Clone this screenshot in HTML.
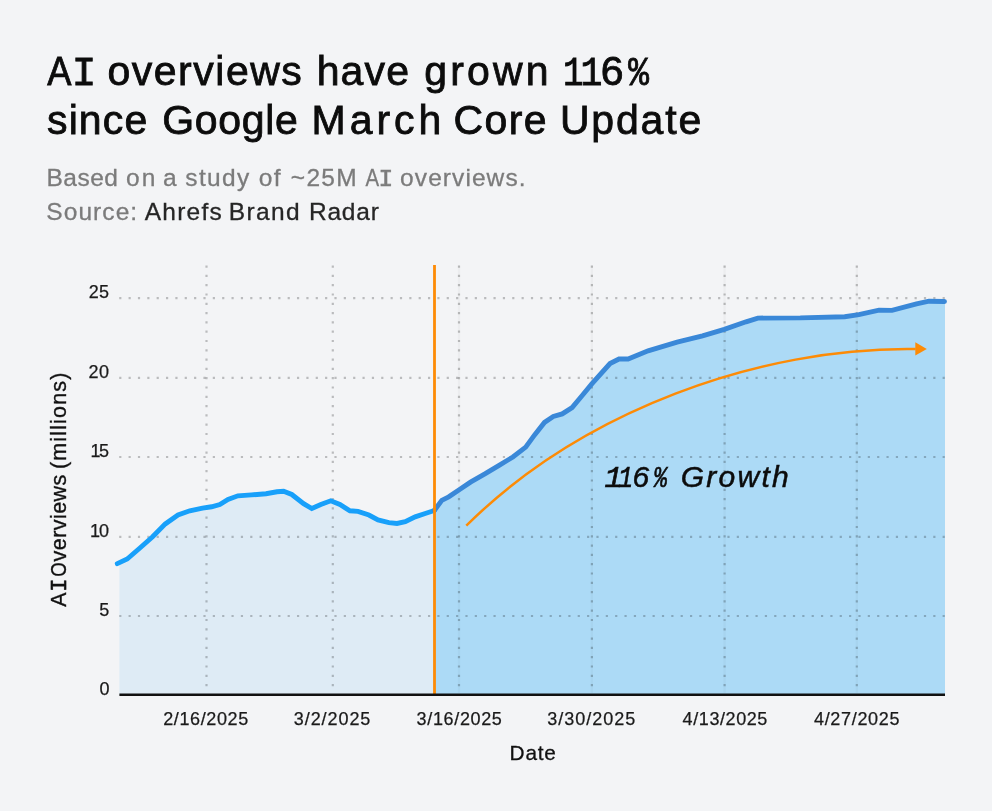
<!DOCTYPE html>
<html><head><meta charset="utf-8"><style>
html,body{margin:0;padding:0;background:#f3f4f6;}
svg{display:block;will-change:transform}
</style></head><body>
<svg width="992" height="811" viewBox="0 0 992 811">
<rect width="992" height="811" fill="#f3f4f6"/>
<path d="M119.4,695 L119.4,563.6 127.2,559.0 139.9,548.0 152.6,536.8 165.3,523.9 178.0,515.0 189.8,510.8 202.5,508.1 211.6,506.8 219.8,504.5 228.0,499.4 237.9,495.8 251.5,494.9 266.0,493.7 277.0,491.8 283.6,491.2 291.8,494.5 303.6,503.6 311.8,508.5 320.8,504.5 330.8,500.8 339.9,504.5 349.9,510.8 358.0,511.4 368.9,515.0 378.0,519.9 388.9,522.6 397.0,523.5 405.2,521.7 415.2,516.8 425.2,513.5 434.3,510.5 L434.3,695 Z" fill="#deebf5"/>
<path d="M434.3,695 L434.3,510.5 441.8,500.4 448.7,496.8 459.6,489.5 470.5,482.2 485.3,473.7 499.1,465.3 512.9,457.0 525.7,447.1 534.6,434.9 544.5,422.4 553.3,416.5 562.2,413.9 572.1,407.6 582.0,395.8 591.8,383.9 610.0,363.5 619.0,359.0 628.1,359.0 648.1,350.8 677.1,342.1 702.5,335.9 724.3,329.4 746.0,321.8 757.8,318.1 800.3,317.9 844.7,316.7 858.8,314.7 879.0,310.2 892.0,310.4 916.5,303.9 929.0,301.2 944.5,301.5 L945,301.5 L945,695 Z" fill="#acdaf6"/>
<text x="604.60" y="486.6" style="font-family:'Liberation Mono';font-size:30px;fill:#0c0c0c;font-style:italic;stroke:#0c0c0c;stroke-width:0.7px;letter-spacing:0.000px">1</text><text transform="translate(618.20,486.6) scale(0.819,1)" style="font-family:'Liberation Mono';font-size:30px;fill:#0c0c0c;font-style:italic;stroke:#0c0c0c;stroke-width:0.7px">1</text><text x="632.60" y="486.6" style="font-family:'Liberation Sans';font-size:30px;fill:#0c0c0c;font-style:italic;stroke:#0c0c0c;stroke-width:0.5px;letter-spacing:0.000px">6</text><text transform="translate(653.74,486.6) scale(0.743,1)" style="font-family:'Liberation Mono';font-size:30px;fill:#0c0c0c;font-style:italic;stroke:#0c0c0c;stroke-width:0.7px">%</text><text x="680.70" y="486.6" style="font-family:'Liberation Sans';font-size:30px;fill:#0c0c0c;font-style:italic;stroke:#0c0c0c;stroke-width:0.5px;letter-spacing:2.280px">Growth</text>
<line x1="119.2" y1="298.1" x2="945" y2="298.1" stroke="rgba(0,0,0,0.23)" stroke-width="2.2" stroke-dasharray="2.2 7.157"/>
<line x1="119.2" y1="377.8" x2="945" y2="377.8" stroke="rgba(0,0,0,0.23)" stroke-width="2.2" stroke-dasharray="2.2 7.157"/>
<line x1="119.2" y1="457" x2="945" y2="457" stroke="rgba(0,0,0,0.23)" stroke-width="2.2" stroke-dasharray="2.2 7.157"/>
<line x1="119.2" y1="536.8" x2="945" y2="536.8" stroke="rgba(0,0,0,0.23)" stroke-width="2.2" stroke-dasharray="2.2 7.157"/>
<line x1="119.2" y1="616" x2="945" y2="616" stroke="rgba(0,0,0,0.23)" stroke-width="2.2" stroke-dasharray="2.2 7.157"/>
<line x1="206.5" y1="265.5" x2="206.5" y2="693" stroke="rgba(0,0,0,0.23)" stroke-width="2.2" stroke-dasharray="2.2 7.1"/>
<line x1="332.8" y1="265.5" x2="332.8" y2="693" stroke="rgba(0,0,0,0.23)" stroke-width="2.2" stroke-dasharray="2.2 7.1"/>
<line x1="459.0" y1="265.6" x2="459.0" y2="693" stroke="rgba(0,0,0,0.028)" stroke-width="2.4"/>
<line x1="459.0" y1="265.5" x2="459.0" y2="693" stroke="rgba(0,0,0,0.23)" stroke-width="2.2" stroke-dasharray="2.2 7.1"/>
<line x1="591.9" y1="265.6" x2="591.9" y2="693" stroke="rgba(0,0,0,0.028)" stroke-width="2.4"/>
<line x1="591.9" y1="265.5" x2="591.9" y2="693" stroke="rgba(0,0,0,0.23)" stroke-width="2.2" stroke-dasharray="2.2 7.1"/>
<line x1="724.6" y1="265.6" x2="724.6" y2="693" stroke="rgba(0,0,0,0.028)" stroke-width="2.4"/>
<line x1="724.6" y1="265.5" x2="724.6" y2="693" stroke="rgba(0,0,0,0.23)" stroke-width="2.2" stroke-dasharray="2.2 7.1"/>
<line x1="856.8" y1="265.6" x2="856.8" y2="693" stroke="rgba(0,0,0,0.028)" stroke-width="2.4"/>
<line x1="856.8" y1="265.5" x2="856.8" y2="693" stroke="rgba(0,0,0,0.23)" stroke-width="2.2" stroke-dasharray="2.2 7.1"/>
<polyline points="117.3,563.6 127.2,559.0 139.9,548.0 152.6,536.8 165.3,523.9 178.0,515.0 189.8,510.8 202.5,508.1 211.6,506.8 219.8,504.5 228.0,499.4 237.9,495.8 251.5,494.9 266.0,493.7 277.0,491.8 283.6,491.2 291.8,494.5 303.6,503.6 311.8,508.5 320.8,504.5 330.8,500.8 339.9,504.5 349.9,510.8 358.0,511.4 368.9,515.0 378.0,519.9 388.9,522.6 397.0,523.5 405.2,521.7 415.2,516.8 425.2,513.5 434.3,510.5" fill="none" stroke="#18a0fa" stroke-width="4.9" stroke-linejoin="miter" stroke-linecap="round"/>
<polyline points="434.3,510.5 441.8,500.4 448.7,496.8 459.6,489.5 470.5,482.2 485.3,473.7 499.1,465.3 512.9,457.0 525.7,447.1 534.6,434.9 544.5,422.4 553.3,416.5 562.2,413.9 572.1,407.6 582.0,395.8 591.8,383.9 610.0,363.5 619.0,359.0 628.1,359.0 648.1,350.8 677.1,342.1 702.5,335.9 724.3,329.4 746.0,321.8 757.8,318.1 800.3,317.9 844.7,316.7 858.8,314.7 879.0,310.2 892.0,310.4 916.5,303.9 929.0,301.2 944.5,301.5" fill="none" stroke="#3a88d8" stroke-width="4.9" stroke-linejoin="miter" stroke-linecap="round"/>
<line x1="434.5" y1="265" x2="434.5" y2="695" stroke="#fd8b06" stroke-width="2.8"/>
<line x1="119.4" y1="694.8" x2="945" y2="694.8" stroke="#111" stroke-width="2.6"/>
<path d="M466.3,525.7 C581.4,411.4 759,346.7 915.7,349.1" fill="none" stroke="#fd8b06" stroke-width="2.5"/>
<path d="M915.3,342.3 L926.8,349.1 L915.3,355.6 Z" fill="#fd8b06"/>
<text x="88.70" y="298.1" style="font-family:'Liberation Sans';font-size:18px;fill:#1a1a1a;stroke:#1a1a1a;stroke-width:0.25px;letter-spacing:0.400px">25</text>
<text x="88.40" y="377.8" style="font-family:'Liberation Sans';font-size:18px;fill:#1a1a1a;stroke:#1a1a1a;stroke-width:0.25px;letter-spacing:0.700px">20</text>
<text x="90.60" y="457" style="font-family:'Liberation Sans';font-size:18px;fill:#1a1a1a;stroke:#1a1a1a;stroke-width:0.25px;letter-spacing:-1.500px">15</text>
<text x="90.10" y="536.8" style="font-family:'Liberation Sans';font-size:18px;fill:#1a1a1a;stroke:#1a1a1a;stroke-width:0.25px;letter-spacing:-1.000px">10</text>
<text x="99.30" y="616" style="font-family:'Liberation Sans';font-size:18px;fill:#1a1a1a;stroke:#1a1a1a;stroke-width:0.25px;letter-spacing:0.000px">5</text>
<text x="99.50" y="695" style="font-family:'Liberation Sans';font-size:18px;fill:#1a1a1a;stroke:#1a1a1a;stroke-width:0.25px;letter-spacing:0.000px">0</text>
<text x="163.20" y="724.5" style="font-family:'Liberation Sans';font-size:18px;fill:#1a1a1a;stroke:#1a1a1a;stroke-width:0.25px;letter-spacing:0.625px">2/16/2025</text><text x="293.80" y="724.5" style="font-family:'Liberation Sans';font-size:18px;fill:#1a1a1a;stroke:#1a1a1a;stroke-width:0.25px;letter-spacing:0.929px">3/2/2025</text><text x="416.60" y="724.5" style="font-family:'Liberation Sans';font-size:18px;fill:#1a1a1a;stroke:#1a1a1a;stroke-width:0.25px;letter-spacing:0.650px">3/16/2025</text><text x="547.20" y="724.5" style="font-family:'Liberation Sans';font-size:18px;fill:#1a1a1a;stroke:#1a1a1a;stroke-width:0.25px;letter-spacing:1.012px">3/30/2025</text><text x="682.60" y="724.5" style="font-family:'Liberation Sans';font-size:18px;fill:#1a1a1a;stroke:#1a1a1a;stroke-width:0.25px;letter-spacing:0.587px">4/13/2025</text><text x="814.00" y="724.5" style="font-family:'Liberation Sans';font-size:18px;fill:#1a1a1a;stroke:#1a1a1a;stroke-width:0.25px;letter-spacing:0.675px">4/27/2025</text>
<text x="509.60" y="759.5" style="font-family:'Liberation Sans';font-size:20.8px;fill:#111;stroke:#111;stroke-width:0.3px;letter-spacing:0.767px">Date</text>
<g transform="translate(66.2,606.1) rotate(-90)"><text x="-0.60" y="0" style="font-family:'Liberation Sans';font-size:21.5px;fill:#111;stroke:#111;stroke-width:0.35px;letter-spacing:0.000px">A</text><text x="14.70" y="0" style="font-family:'Liberation Mono';font-size:21.5px;fill:#111;stroke:#111;stroke-width:0.7px;letter-spacing:0.000px">I</text><text transform="translate(29.23,0) scale(0.867,1)" style="font-family:'Liberation Sans';font-size:21.5px;fill:#111;stroke:#111;stroke-width:0.35px">O</text><text x="44.70" y="0" style="font-family:'Liberation Sans';font-size:21.5px;fill:#111;stroke:#111;stroke-width:0.35px;letter-spacing:0.429px">verviews</text><text x="137.10" y="0" style="font-family:'Liberation Sans';font-size:21.5px;fill:#111;stroke:#111;stroke-width:0.35px;letter-spacing:1.144px">(millions)</text></g>
<text transform="translate(47.30,85.2) scale(0.886,1)" style="font-family:'Liberation Sans';font-size:41px;fill:#0c0c0c;stroke:#0c0c0c;stroke-width:0.8px">A</text><text x="71.65" y="85.2" style="font-family:'Liberation Mono';font-size:41px;fill:#0c0c0c;stroke:#0c0c0c;stroke-width:0.9px;letter-spacing:0.000px">I</text><text x="107.40" y="85.2" style="font-family:'Liberation Sans';font-size:41px;fill:#0c0c0c;stroke:#0c0c0c;stroke-width:0.8px;letter-spacing:1.525px">overviews</text><text x="316.70" y="85.2" style="font-family:'Liberation Sans';font-size:41px;fill:#0c0c0c;stroke:#0c0c0c;stroke-width:0.8px;letter-spacing:1.133px">have</text><text x="424.20" y="85.2" style="font-family:'Liberation Sans';font-size:41px;fill:#0c0c0c;stroke:#0c0c0c;stroke-width:0.8px;letter-spacing:3.150px">grown</text><text transform="translate(562.92,85.2) scale(0.838,1)" style="font-family:'Liberation Mono';font-size:41px;fill:#0c0c0c;stroke:#0c0c0c;stroke-width:0.9px">1</text><text transform="translate(580.42,85.2) scale(0.890,1)" style="font-family:'Liberation Mono';font-size:41px;fill:#0c0c0c;stroke:#0c0c0c;stroke-width:0.9px">1</text><text x="600.70" y="85.2" style="font-family:'Liberation Sans';font-size:41px;fill:#0c0c0c;stroke:#0c0c0c;stroke-width:0.8px;letter-spacing:0.000px">6</text><text transform="translate(628.24,85.2) scale(0.842,1)" style="font-family:'Liberation Mono';font-size:41px;fill:#0c0c0c;stroke:#0c0c0c;stroke-width:0.9px">%</text>
<text x="47.00" y="134.4" style="font-family:'Liberation Sans';font-size:41px;fill:#0c0c0c;stroke:#0c0c0c;stroke-width:0.8px;letter-spacing:1.125px">since</text><text x="162.20" y="134.4" style="font-family:'Liberation Sans';font-size:41px;fill:#0c0c0c;stroke:#0c0c0c;stroke-width:0.8px;letter-spacing:0.660px">Google</text><text x="311.50" y="134.4" style="font-family:'Liberation Sans';font-size:41px;fill:#0c0c0c;stroke:#0c0c0c;stroke-width:0.8px;letter-spacing:3.975px">March</text><text x="453.50" y="134.4" style="font-family:'Liberation Sans';font-size:41px;fill:#0c0c0c;stroke:#0c0c0c;stroke-width:0.8px;letter-spacing:1.433px">Core</text><text x="559.90" y="134.4" style="font-family:'Liberation Sans';font-size:41px;fill:#0c0c0c;stroke:#0c0c0c;stroke-width:0.8px;letter-spacing:1.820px">Update</text>
<text x="46.40" y="186" style="font-family:'Liberation Sans';font-size:24.5px;fill:#7b7b7b;stroke:#7b7b7b;stroke-width:0.3px;letter-spacing:0.525px">Based</text><text x="126.00" y="186" style="font-family:'Liberation Sans';font-size:24.5px;fill:#7b7b7b;stroke:#7b7b7b;stroke-width:0.3px;letter-spacing:2.000px">on</text><text x="162.90" y="186" style="font-family:'Liberation Sans';font-size:24.5px;fill:#7b7b7b;stroke:#7b7b7b;stroke-width:0.3px;letter-spacing:0.000px">a</text><text x="185.30" y="186" style="font-family:'Liberation Sans';font-size:24.5px;fill:#7b7b7b;stroke:#7b7b7b;stroke-width:0.3px;letter-spacing:1.350px">study</text><text x="258.70" y="186" style="font-family:'Liberation Sans';font-size:24.5px;fill:#7b7b7b;stroke:#7b7b7b;stroke-width:0.3px;letter-spacing:1.500px">of</text><text x="290.80" y="186" style="font-family:'Liberation Sans';font-size:24.5px;fill:#7b7b7b;stroke:#7b7b7b;stroke-width:0.3px;letter-spacing:1.300px">~25M</text><text transform="translate(365.40,186) scale(0.835,1)" style="font-family:'Liberation Sans';font-size:24.5px;fill:#7b7b7b;stroke:#7b7b7b;stroke-width:0.3px">A</text><text x="378.45" y="186" style="font-family:'Liberation Mono';font-size:24.5px;fill:#7b7b7b;stroke:#7b7b7b;stroke-width:0.6px;letter-spacing:0.000px">I</text><text x="400.10" y="186" style="font-family:'Liberation Sans';font-size:24.5px;fill:#7b7b7b;stroke:#7b7b7b;stroke-width:0.3px;letter-spacing:1.078px">overviews.</text>
<text x="46.30" y="219.5" style="font-family:'Liberation Sans';font-size:24.5px;fill:#7b7b7b;stroke:#7b7b7b;stroke-width:0.3px;letter-spacing:1.067px">Source:</text><text x="144.80" y="219.5" style="font-family:'Liberation Sans';font-size:24.5px;fill:#262626;stroke:#262626;stroke-width:0.3px;letter-spacing:1.220px">Ahrefs</text><text x="228.80" y="219.5" style="font-family:'Liberation Sans';font-size:24.5px;fill:#262626;stroke:#262626;stroke-width:0.3px;letter-spacing:1.350px">Brand</text><text x="308.90" y="219.5" style="font-family:'Liberation Sans';font-size:24.5px;fill:#262626;stroke:#262626;stroke-width:0.3px;letter-spacing:0.800px">Radar</text>
</svg>
</body></html>
